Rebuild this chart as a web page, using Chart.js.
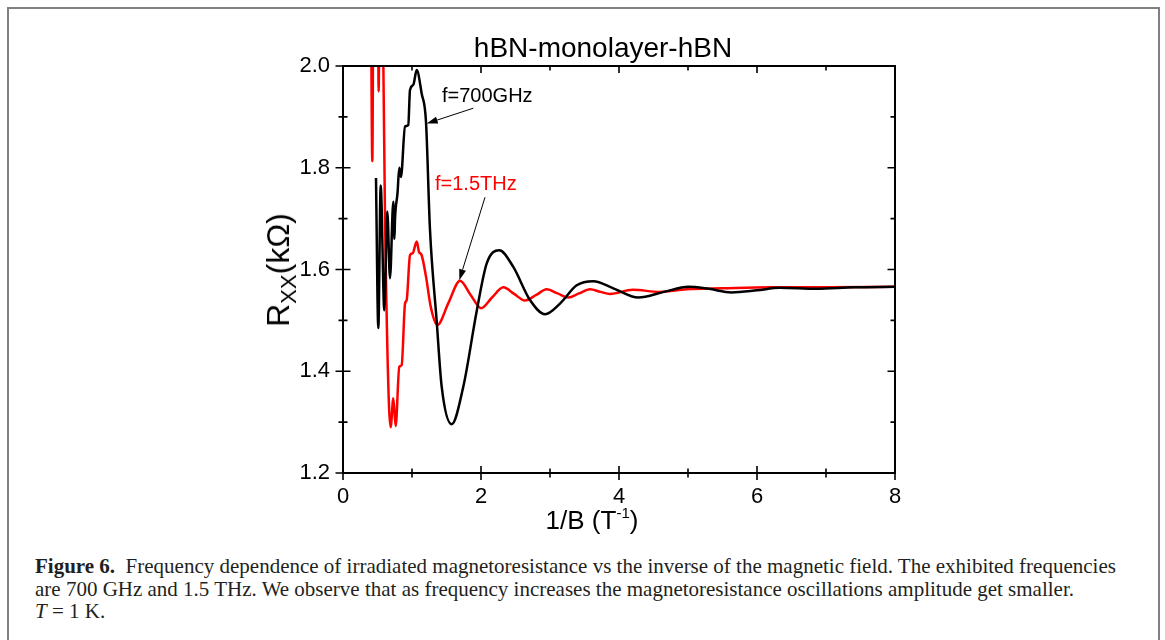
<!DOCTYPE html>
<html>
<head>
<meta charset="utf-8">
<script src="https://cdn.jsdelivr.net/npm/chart.js@4.4.1/dist/chart.umd.min.js"></script>
<style>
  html, body { margin: 0; padding: 0; background: #fff; }
  body { width: 1165px; height: 640px; position: relative; overflow: hidden; font-family: "Liberation Sans", Arial, sans-serif; }
  #frame { position: absolute; left: 7px; top: 7px; width: 1149px; height: 700px; border: 2px solid #808080; }
  #wrap { position: absolute; left: 0; top: 0; width: 1165px; height: 520px; }
  .lbl { position: absolute; white-space: nowrap; color: #000; transform: translate(-50%, -50%); }
  #title { left: 603px; top: 48px; font-size: 28px; }
  #ytitle { left: 281px; top: 270px; font-size: 32px; transform: translate(-50%, -50%) rotate(-90deg); }
  #ytitle sub { font-size: 22px; vertical-align: -7px; }
  #xtitle { left: 592px; top: 520px; font-size: 26px; }
  #xtitle sup { font-size: 15px; vertical-align: 11px; }
  #caption { position: absolute; left: 35px; top: 555px; font-family: "Liberation Serif", "Times New Roman", serif; font-size: 21px; line-height: 22.5px; color: #231f20; white-space: nowrap; }
</style>
</head>
<body>
<div id="frame"></div>
<div id="wrap"><canvas id="chart"></canvas></div>
<div class="lbl" id="title">hBN-monolayer-hBN</div>
<div class="lbl" id="ytitle">R<sub>XX</sub>(kΩ)</div>
<div class="lbl" id="xtitle">1/B (T<sup>-1</sup>)</div>
<div id="caption"><b>Figure 6.</b>&nbsp; Frequency dependence of irradiated magnetoresistance vs the inverse of the magnetic field. The exhibited frequencies<br>are 700 GHz and 1.5 THz. We observe that as frequency increases the magnetoresistance oscillations amplitude get smaller.<br><i>T</i> = 1 K.</div>
<script>
// 1/B (T^-1) and Rxx (kOhm)
const invB700 = [0.478, 0.512, 0.546, 0.599, 0.642, 0.681, 0.729, 0.745, 0.754, 0.79, 0.816, 0.84, 0.899, 0.946, 0.971, 1.019, 1.068, 1.14, 1.203, 1.26, 1.357, 1.43, 1.575, 1.744, 1.94, 2.083, 2.265, 2.468, 2.71, 2.928, 3.145, 3.387, 3.628, 3.918, 4.28, 4.65, 5.005, 5.3, 5.63, 6.0, 6.33, 6.86, 7.4, 8.0];
const rxx700 = [1.78, 1.485, 1.765, 1.52, 1.714, 1.583, 1.733, 1.66, 1.70, 1.75, 1.80, 1.782, 1.881, 1.884, 1.953, 1.963, 1.992, 1.946, 1.89, 1.68, 1.50, 1.37, 1.296, 1.37, 1.52, 1.612, 1.638, 1.605, 1.54, 1.512, 1.533, 1.569, 1.577, 1.563, 1.545, 1.556, 1.566, 1.562, 1.555, 1.559, 1.564, 1.562, 1.565, 1.566];

const invB1500 = [0.40, 0.425, 0.445, 0.50, 0.517, 0.535, 0.57, 0.585, 0.609, 0.691, 0.729, 0.763, 0.816, 0.85, 0.899, 0.923, 0.971, 1.01, 1.068, 1.101, 1.14, 1.203, 1.271, 1.367, 1.53, 1.696, 1.85, 2.0, 2.16, 2.323, 2.48, 2.638, 2.8, 2.952, 3.11, 3.265, 3.42, 3.58, 3.73, 3.87, 4.2, 4.59, 4.98, 5.5, 6.2, 7.0, 8.0];
const rxx1500 = [2.3, 1.813, 2.3, 2.3, 1.95, 2.3, 2.3, 2.0, 1.70, 1.29, 1.347, 1.292, 1.409, 1.412, 1.533, 1.54, 1.628, 1.632, 1.655, 1.635, 1.628, 1.586, 1.527, 1.491, 1.535, 1.578, 1.55, 1.524, 1.545, 1.565, 1.552, 1.539, 1.55, 1.561, 1.553, 1.545, 1.553, 1.561, 1.556, 1.552, 1.56, 1.556, 1.561, 1.563, 1.565, 1.565, 1.566];

const xTicks = [0, 2, 4, 6, 8];
const xMinor = [1, 3, 5, 7];
const yTicks = [1.2, 1.4, 1.6, 1.8, 2.0];
const yMinor = [1.3, 1.5, 1.7, 1.9];

// labels with arrows, in data units
const notes = [
  { text: "f=700GHz", color: "#000", at: [1.435, 1.929], tail: [1.888, 1.917], tip: [1.213, 1.887] },
  { text: "f=1.5THz", color: "#ff0000", at: [1.333, 1.756], tail: [2.058, 1.742], tip: [1.686, 1.579] }
];

const toPts = (xs, ys) => xs.map((x, i) => ({ x, y: ys[i] }));

const frameAndNotes = {
  id: "frameAndNotes",
  afterDatasetsDraw(chart) {
    const { ctx, chartArea: a, scales: { x, y } } = chart;
    ctx.save();
    ctx.strokeStyle = "#000";
    ctx.lineWidth = 2;
    ctx.strokeRect(a.left, a.top, a.right - a.left, a.bottom - a.top);

    ctx.lineWidth = 1.6;
    ctx.beginPath();
    const xt = (v, len) => {
      const px = x.getPixelForValue(v);
      ctx.moveTo(px, a.bottom - len); ctx.lineTo(px, a.bottom + len);
      ctx.moveTo(px, a.top); ctx.lineTo(px, a.top + len);
    };
    const yt = (v, len) => {
      const py = y.getPixelForValue(v);
      ctx.moveTo(a.left - len, py); ctx.lineTo(a.left + len, py);
      ctx.moveTo(a.right, py); ctx.lineTo(a.right - len, py);
    };
    xTicks.forEach(v => xt(v, 7));
    xMinor.forEach(v => xt(v, 4.5));
    yTicks.forEach(v => yt(v, 7.5));
    yMinor.forEach(v => yt(v, 4.5));
    ctx.stroke();

    notes.forEach(n => {
      ctx.fillStyle = n.color;
      ctx.font = "20px 'Liberation Sans', Arial, sans-serif";
      ctx.textBaseline = "alphabetic";
      ctx.fillText(n.text, x.getPixelForValue(n.at[0]), y.getPixelForValue(n.at[1]));

      const x0 = x.getPixelForValue(n.tail[0]), y0 = y.getPixelForValue(n.tail[1]);
      const x1 = x.getPixelForValue(n.tip[0]), y1 = y.getPixelForValue(n.tip[1]);
      const ang = Math.atan2(y1 - y0, x1 - x0);
      const hl = 11, hw = 3.5;
      const bx = x1 - hl * Math.cos(ang), by = y1 - hl * Math.sin(ang);
      ctx.strokeStyle = "#000";
      ctx.fillStyle = "#000";
      ctx.lineWidth = 1;
      ctx.beginPath();
      ctx.moveTo(x0, y0); ctx.lineTo(bx, by);
      ctx.stroke();
      ctx.beginPath();
      ctx.moveTo(x1, y1);
      ctx.lineTo(bx + hw * Math.sin(ang), by - hw * Math.cos(ang));
      ctx.lineTo(bx - hw * Math.sin(ang), by + hw * Math.cos(ang));
      ctx.closePath();
      ctx.fill();
    });
    ctx.restore();
  }
};

new Chart(document.getElementById("chart"), {
  type: "line",
  data: {
    datasets: [
      { label: "f=700GHz", data: toPts(invB700, rxx700), borderColor: "#000", borderWidth: 2.5, pointRadius: 0, cubicInterpolationMode: "monotone" },
      { label: "f=1.5THz", data: toPts(invB1500, rxx1500), borderColor: "#ff0000", borderWidth: 2.5, pointRadius: 0, cubicInterpolationMode: "monotone" }
    ]
  },
  options: {
    responsive: true,
    maintainAspectRatio: false,
    animation: false,
    layout: { autoPadding: false, padding: { left: 283, right: 270, top: 66, bottom: 0 } },
    plugins: { legend: { display: false }, tooltip: { enabled: false }, title: { display: false } },
    scales: {
      x: {
        type: "linear", min: 0, max: 8,
        grid: { display: false, drawTicks: false },
        border: { display: false },
        afterBuildTicks: s => { s.ticks = xTicks.map(v => ({ value: v })); },
        afterFit: s => { s.height = 47; s.paddingLeft = 0; s.paddingRight = 0; },
        ticks: { color: "#000", padding: 11, maxRotation: 0, font: { family: "'Liberation Sans', Arial, sans-serif", size: 22 } }
      },
      y: {
        type: "linear", min: 1.2, max: 2.0,
        grid: { display: false, drawTicks: false },
        border: { display: false },
        afterBuildTicks: s => { s.ticks = yTicks.map(v => ({ value: v })); },
        afterFit: s => { s.width = 60; s.paddingTop = 0; s.paddingBottom = 0; },
        ticks: { color: "#000", padding: 13, callback: v => v.toFixed(1), font: { family: "'Liberation Sans', Arial, sans-serif", size: 22 } }
      }
    }
  },
  plugins: [frameAndNotes]
});
</script>
</body>
</html>
